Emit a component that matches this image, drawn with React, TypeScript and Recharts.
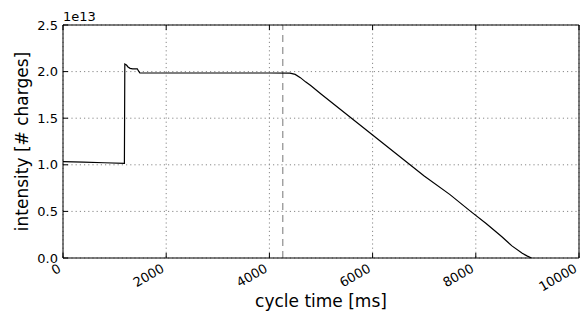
import React from 'react';
import { LineChart, Line, XAxis, YAxis, CartesianGrid, ReferenceLine } from 'recharts';

// cycle time [ms] and intensity [1e13 charges]
const cycleTime = [
  0, 400, 800, 1190, 1198, 1230, 1260, 1300, 1350, 1440, 1460, 1490,
  2000, 3000, 4000, 4400, 4500, 4600, 4700, 4800, 5000, 5500, 6000,
  6500, 7000, 7500, 7900, 8200, 8500, 8700, 8900, 9000, 9080,
];
const intensity = [
  1.035, 1.028, 1.022, 1.015, 2.08, 2.07, 2.05, 2.035, 2.03, 2.03, 2.01, 1.985,
  1.985, 1.985, 1.985, 1.983, 1.97, 1.935, 1.89, 1.85, 1.76, 1.54, 1.32,
  1.1, 0.88, 0.68, 0.5, 0.37, 0.23, 0.13, 0.05, 0.02, 0.0,
];
const xTicks = [0, 2000, 4000, 6000, 8000, 10000];
const yTicks = [0, 0.5, 1.0, 1.5, 2.0, 2.5];
const switchTime = 4260;

const data = cycleTime.map((t, i) => ({ t, v: intensity[i] }));

const FONT = '"DejaVu Sans", sans-serif';
const TICK_LEN = 5;

const BottomTick = (props: any) => {
  const { x, y, payload } = props;
  const ax = x - 1;
  const ay = y + 13;
  return (
    <g>
      <line x1={x} y1={y} x2={x} y2={y - TICK_LEN} stroke="#000" />
      <text x={ax} y={ay} textAnchor="end" fontSize={13} fontFamily={FONT} fill="#000"
        transform={`rotate(-30, ${ax}, ${ay})`}>
        {String(payload.value)}
      </text>
    </g>
  );
};

const TopTick = (props: any) => {
  const { x, y } = props;
  return <line x1={x} y1={y} x2={x} y2={y + TICK_LEN} stroke="#000" />;
};

const LeftTick = (props: any) => {
  const { x, y, payload } = props;
  return (
    <g>
      <line x1={x} y1={y} x2={x + TICK_LEN} y2={y} stroke="#000" />
      <text x={x - 5} y={y} textAnchor="end" dominantBaseline="central" fontSize={13}
        fontFamily={FONT} fill="#000">
        {Number(payload.value).toFixed(1)}
      </text>
    </g>
  );
};

const RightTick = (props: any) => {
  const { x, y } = props;
  return <line x1={x} y1={y} x2={x - TICK_LEN} y2={y} stroke="#000" />;
};

export default function App() {
  return (
    <div style={{ position: 'absolute', left: 0, top: 0, background: '#fff' }}>
      <LineChart width={581} height={315} data={data} margin={{ top: 24, right: 1, left: 0, bottom: 0 }}>
        <CartesianGrid stroke="#888" strokeDasharray="1.2 3" />
        <XAxis
          dataKey="t"
          type="number"
          domain={[0, 10000]}
          ticks={xTicks}
          height={57}
          tickSize={0}
          tickMargin={0}
          axisLine={{ stroke: '#000' }}
          tickLine={false}
          tick={<BottomTick />}
          interval={0}
          label={(p: any) => {
            const vb = p.viewBox;
            return (
              <text x={vb.x + vb.width / 2} y={vb.y + 49} textAnchor="middle" fontSize={17}
                fontFamily={FONT} fill="#000">cycle time [ms]</text>
            );
          }}
        />
        <XAxis
          xAxisId="top"
          orientation="top"
          dataKey="t"
          type="number"
          domain={[0, 10000]}
          ticks={xTicks}
          height={1}
          tickSize={0}
          tickMargin={0}
          axisLine={{ stroke: '#000' }}
          tickLine={false}
          tick={<TopTick />}
          interval={0}
          label={(p: any) => {
            const vb = p.viewBox;
            return (
              <text x={vb.x} y={vb.y - 3} textAnchor="start" fontSize={13}
                fontFamily={FONT} fill="#000">1e13</text>
            );
          }}
        />
        <YAxis
          type="number"
          domain={[0, 2.5]}
          ticks={yTicks}
          width={63}
          tickSize={0}
          tickMargin={0}
          axisLine={{ stroke: '#000' }}
          tickLine={false}
          tick={<LeftTick />}
          interval={0}
          label={(p: any) => {
            const vb = p.viewBox;
            const cx = 28;
            const cy = vb.y + vb.height / 2;
            return (
              <text x={cx} y={cy} textAnchor="middle" fontSize={17} fontFamily={FONT} fill="#000"
                transform={`rotate(-90, ${cx}, ${cy})`}>intensity [# charges]</text>
            );
          }}
        />
        <YAxis
          yAxisId="right"
          orientation="right"
          type="number"
          domain={[0, 2.5]}
          ticks={yTicks}
          width={1}
          tickSize={0}
          tickMargin={0}
          axisLine={{ stroke: '#000' }}
          tickLine={false}
          tick={<RightTick />}
          interval={0}
        />
        <ReferenceLine x={switchTime} stroke="#777" strokeDasharray="7 5" />
        <Line type="linear" dataKey="v" stroke="#000" strokeWidth={1.2} dot={false}
          isAnimationActive={false} />
      </LineChart>
    </div>
  );
}
